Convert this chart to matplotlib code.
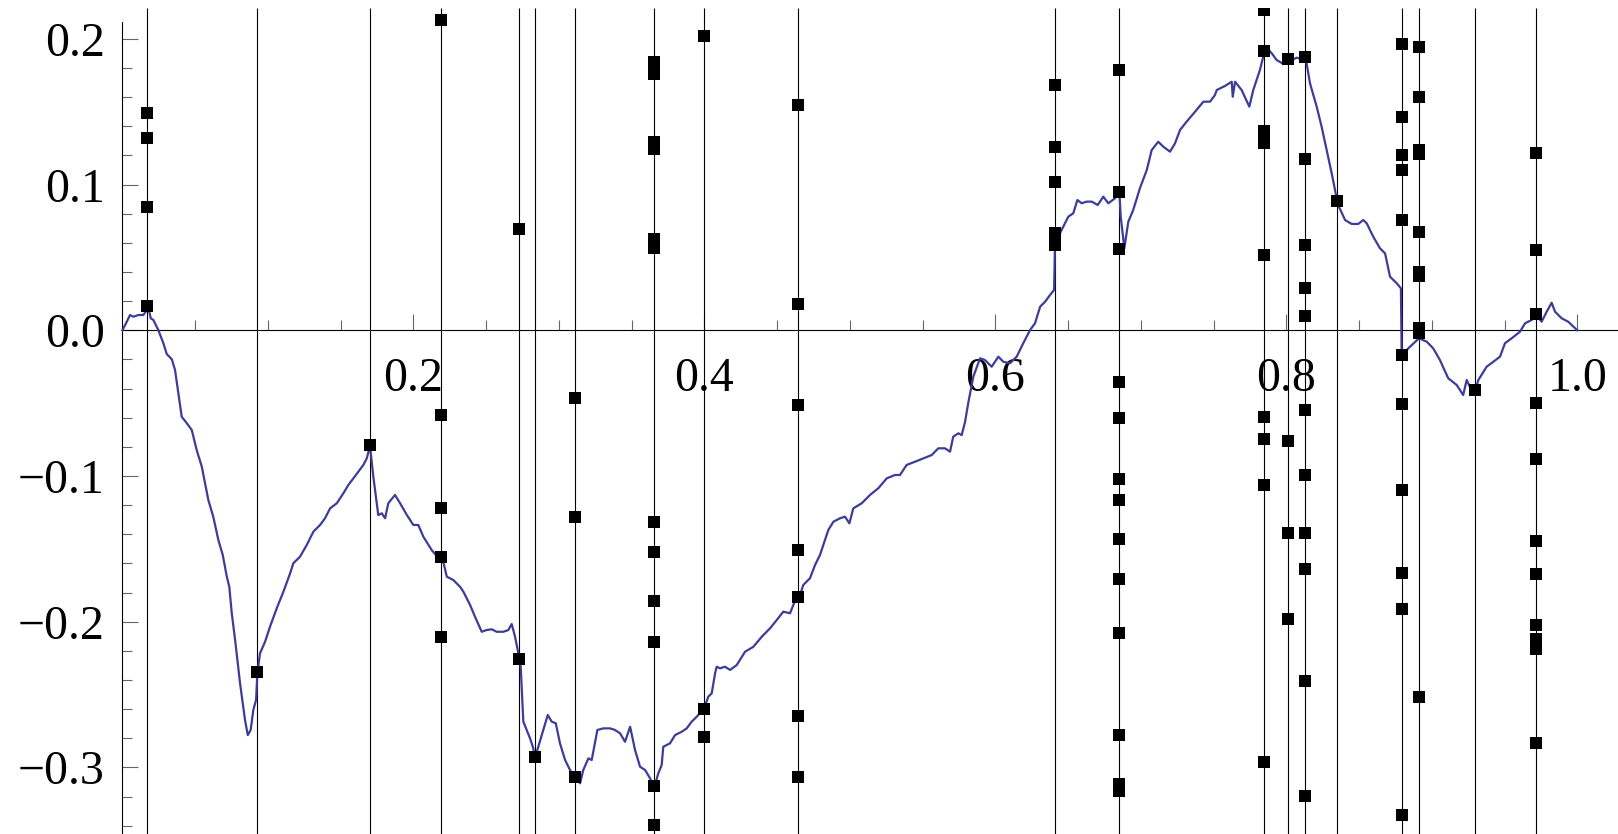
import numpy as np
import matplotlib
matplotlib.use("Agg")
import matplotlib.pyplot as plt
from matplotlib.ticker import FixedLocator, FixedFormatter

# traced walk (blue curve)
walk_x = [0.0000, 0.0019, 0.0053, 0.0076, 0.0110, 0.0144, 0.0161, 0.0170, 0.0195, 0.0213,
          0.0247, 0.0282, 0.0305, 0.0340, 0.0362, 0.0385, 0.0408, 0.0443, 0.0477, 0.0511,
          0.0546, 0.0591, 0.0625, 0.0660, 0.0690, 0.0718, 0.0735, 0.0752, 0.0775, 0.0809,
          0.0843, 0.0862, 0.0882, 0.0900, 0.0919, 0.0928, 0.0946, 0.0981, 0.1015, 0.1061,
          0.1107, 0.1153, 0.1175, 0.1221, 0.1267, 0.1313, 0.1359, 0.1393, 0.1428, 0.1474,
          0.1519, 0.1553, 0.1588, 0.1622, 0.1656, 0.1680, 0.1702, 0.1725, 0.1759, 0.1783,
          0.1806, 0.1828, 0.1874, 0.1909, 0.1955, 0.2000, 0.2034, 0.2069, 0.2126, 0.2165,
          0.2195, 0.2230, 0.2275, 0.2321, 0.2344, 0.2390, 0.2424, 0.2470, 0.2504, 0.2539,
          0.2573, 0.2619, 0.2653, 0.2676, 0.2699, 0.2722, 0.2738, 0.2756, 0.2779, 0.2802,
          0.2821, 0.2838, 0.2859, 0.2893, 0.2924, 0.2951, 0.2979, 0.3008, 0.3043, 0.3077,
          0.3111, 0.3146, 0.3168, 0.3203, 0.3226, 0.3265, 0.3306, 0.3352, 0.3386, 0.3421,
          0.3455, 0.3490, 0.3524, 0.3558, 0.3593, 0.3627, 0.3654, 0.3684, 0.3707, 0.3718,
          0.3764, 0.3799, 0.3845, 0.3879, 0.3913, 0.3948, 0.4000, 0.4027, 0.4051, 0.4074,
          0.4085, 0.4108, 0.4142, 0.4177, 0.4223, 0.4280, 0.4337, 0.4395, 0.4452, 0.4498,
          0.4543, 0.4589, 0.4635, 0.4658, 0.4680, 0.4726, 0.4761, 0.4795, 0.4852, 0.4887,
          0.4933, 0.4967, 0.4997, 0.5024, 0.5082, 0.5139, 0.5196, 0.5254, 0.5311, 0.5345,
          0.5391, 0.5448, 0.5505, 0.5563, 0.5608, 0.5654, 0.5689, 0.5711, 0.5746, 0.5769,
          0.5792, 0.5814, 0.5849, 0.5895, 0.5929, 0.5975, 0.6021, 0.6055, 0.6101, 0.6147,
          0.6192, 0.6239, 0.6273, 0.6308, 0.6342, 0.6376, 0.6404, 0.6410, 0.6433, 0.6467,
          0.6502, 0.6536, 0.6564, 0.6594, 0.6628, 0.6663, 0.6704, 0.6742, 0.6777, 0.6823,
          0.6852, 0.6862, 0.6887, 0.6914, 0.6948, 0.6994, 0.7041, 0.7075, 0.7120, 0.7155,
          0.7201, 0.7235, 0.7270, 0.7315, 0.7373, 0.7430, 0.7476, 0.7510, 0.7522, 0.7579,
          0.7625, 0.7632, 0.7648, 0.7693, 0.7746, 0.7773, 0.7819, 0.7847, 0.7869, 0.7900,
          0.7934, 0.7980, 0.8007, 0.8037, 0.8072, 0.8106, 0.8135, 0.8163, 0.8209, 0.8243,
          0.8278, 0.8312, 0.8335, 0.8351, 0.8404, 0.8449, 0.8495, 0.8529, 0.8553, 0.8598,
          0.8644, 0.8679, 0.8713, 0.8759, 0.8788, 0.8793, 0.8850, 0.8912, 0.8965, 0.9010,
          0.9056, 0.9113, 0.9171, 0.9216, 0.9240, 0.9267, 0.9297, 0.9320, 0.9377, 0.9423,
          0.9469, 0.9503, 0.9549, 0.9606, 0.9641, 0.9687, 0.9716, 0.9755, 0.9790, 0.9824,
          0.9847, 0.9893, 0.9938, 1.0000]
walk_y = [0.0000, 0.0036, 0.0105, 0.0093, 0.0105, 0.0105, 0.0128, 0.0196, 0.0082, 0.0071,
          0.0002, -0.0089, -0.0163, -0.0199, -0.0272, -0.0432, -0.0593, -0.0638, -0.0684, -0.0822,
          -0.0936, -0.1165, -0.1280, -0.1440, -0.1542, -0.1691, -0.1760, -0.1942, -0.2125, -0.2423,
          -0.2674, -0.2778, -0.2743, -0.2606, -0.2537, -0.2354, -0.2217, -0.2137, -0.2034, -0.1908,
          -0.1794, -0.1668, -0.1599, -0.1554, -0.1474, -0.1382, -0.1336, -0.1290, -0.1222, -0.1187,
          -0.1119, -0.1062, -0.1016, -0.0970, -0.0925, -0.0879, -0.0791, -0.1005, -0.1268, -0.1256,
          -0.1290, -0.1187, -0.1130, -0.1187, -0.1267, -0.1336, -0.1336, -0.1417, -0.1508, -0.1554,
          -0.1542, -0.1691, -0.1714, -0.1760, -0.1794, -0.1885, -0.1966, -0.2069, -0.2057, -0.2052,
          -0.2069, -0.2069, -0.2057, -0.2016, -0.2103, -0.2217, -0.2309, -0.2686, -0.2743, -0.2800,
          -0.2858, -0.2927, -0.2858, -0.2743, -0.2640, -0.2686, -0.2697, -0.2835, -0.2949, -0.3018,
          -0.3064, -0.3109, -0.3018, -0.2938, -0.2949, -0.2743, -0.2732, -0.2732, -0.2743, -0.2766,
          -0.2824, -0.2721, -0.2881, -0.2995, -0.3018, -0.3075, -0.3143, -0.3040, -0.2983, -0.2858,
          -0.2835, -0.2778, -0.2755, -0.2732, -0.2686, -0.2652, -0.2594, -0.2515, -0.2491, -0.2354,
          -0.2309, -0.2320, -0.2309, -0.2331, -0.2297, -0.2206, -0.2172, -0.2103, -0.2045, -0.1988,
          -0.1931, -0.1942, -0.1828, -0.1817, -0.1748, -0.1702, -0.1611, -0.1542, -0.1371, -0.1314,
          -0.1290, -0.1279, -0.1325, -0.1222, -0.1187, -0.1130, -0.1084, -0.1016, -0.0993, -0.0993,
          -0.0924, -0.0902, -0.0879, -0.0856, -0.0810, -0.0810, -0.0833, -0.0730, -0.0707, -0.0719,
          -0.0629, -0.0499, -0.0318, -0.0192, -0.0204, -0.0250, -0.0181, -0.0216, -0.0226, -0.0181,
          -0.0089, 0.0002, 0.0048, 0.0162, 0.0196, 0.0242, 0.0277, 0.0585, 0.0642, 0.0711,
          0.0780, 0.0803, 0.0894, 0.0872, 0.0883, 0.0883, 0.0860, 0.0917, 0.0872, 0.0906,
          0.0963, 0.0780, 0.0563, 0.0745, 0.0826, 0.0975, 0.1100, 0.1237, 0.1294, 0.1260,
          0.1226, 0.1283, 0.1375, 0.1432, 0.1500, 0.1569, 0.1569, 0.1615, 0.1649, 0.1677,
          0.1706, 0.1603, 0.1706, 0.1649, 0.1535, 0.1649, 0.1787, 0.1901, 0.1935, 0.1901,
          0.1855, 0.1828, 0.1867, 0.1855, 0.1871, 0.1860, 0.1860, 0.1695, 0.1535, 0.1397,
          0.1237, 0.1078, 0.0963, 0.0872, 0.0757, 0.0730, 0.0730, 0.0757, 0.0734, 0.0642,
          0.0563, 0.0528, 0.0368, 0.0323, 0.0288, -0.0170, -0.0113, -0.0055, -0.0078, -0.0124,
          -0.0204, -0.0329, -0.0375, -0.0444, -0.0341, -0.0398, -0.0421, -0.0341, -0.0250, -0.0216,
          -0.0181, -0.0089, -0.0055, -0.0010, 0.0048, 0.0071, 0.0105, 0.0059, 0.0128, 0.0189,
          0.0128, 0.0082, 0.0059, 0.0000]

# vertical lines and the sample points on each of them
line_x = [0.0170, 0.0928, 0.1702, 0.2192, 0.2724, 0.2838, 0.3111, 0.3656, 0.4000, 0.4642,
          0.6410, 0.6852, 0.7847, 0.8014, 0.8126, 0.8346, 0.8797, 0.8912, 0.9297, 0.9716]
line_pts = [
    [0.1494, 0.1320, 0.0848, 0.0167],
    [-0.2343],
    [-0.0789],
    [0.2128, -0.0583, -0.1218, -0.1558, -0.2107],
    [0.0697, -0.2258],
    [-0.2931],
    [-0.0467, -0.1283, -0.3068],
    [0.1839, 0.1757, 0.1291, 0.1241, 0.0625, 0.0594, 0.0563, -0.1318, -0.1524, -0.1860,
     -0.2141, -0.3130, -0.3397],
    [0.2020, -0.2599, -0.2793],
    [0.1544, 0.0178, -0.0510, -0.1510, -0.1828, -0.2647, -0.3068],
    [0.1682, 0.1256, 0.1020, 0.0666, 0.0585],
    [0.1784, 0.0951, 0.0556, -0.0357, -0.0604, -0.1023, -0.1165, -0.1434, -0.1709, -0.2080,
     -0.2780, -0.3116, -0.3160],
    [0.2198, 0.1919, 0.1366, 0.1283, 0.0515, -0.0593, -0.0748, -0.1064, -0.2965],
    [0.1860, -0.0762, -0.1393, -0.1984],
    [0.1874, 0.1174, 0.0583, 0.0288, 0.0098, -0.0550, -0.0995, -0.1393, -0.1640, -0.2409,
     -0.3198],
    [0.0885],
    [0.1965, 0.1462, 0.1203, 0.1100, 0.0757, -0.0170, -0.0508, -0.1098, -0.1668, -0.1915,
     -0.3329],
    [0.1942, 0.1599, 0.1240, 0.1210, 0.0675, 0.0400, 0.0371, 0.0016, -0.0019, -0.2517],
    [-0.0410],
    [0.1215, 0.0551, 0.0110, -0.0501, -0.0885, -0.1448, -0.1675, -0.2023, -0.2121, -0.2185,
     -0.2835],
]

x_ticks = [0.2, 0.4, 0.6, 0.8, 1.0]
x_labels = ["0.2", "0.4", "0.6", "0.8", "1.0"]
y_ticks = [-0.3, -0.2, -0.1, 0.0, 0.1, 0.2]
y_labels = ["\u22120.3", "\u22120.2", "\u22120.1", "0.0", "0.1", "0.2"]

x_lo, x_hi = -0.0841, 1.0280
y_lo, y_hi = -0.3457, 0.2212
y_axis_top = 0.2116

fig = plt.figure(figsize=(16.18, 8.34), dpi=100)
ax = fig.add_axes([0, 0, 1, 826 / 834])
ax.set_xlim(x_lo, x_hi)
ax.set_ylim(y_lo, y_hi)

ax.vlines(line_x, y_lo, y_hi, colors="black", linewidth=0.8, zorder=2.6)
ax.plot(walk_x, walk_y, color="#3d3d99", linewidth=1.6, zorder=2.7)
for x, ys in zip(line_x, line_pts):
    ax.plot([x] * len(ys), ys, "s", color="black", markersize=8, markeredgewidth=0, zorder=2.8)

# axes through the origin
for side in ["top", "right"]:
    ax.spines[side].set_visible(False)
ax.spines["left"].set_position(("data", 0))
ax.spines["bottom"].set_position(("data", 0))
ax.spines["left"].set_bounds(y_lo, y_axis_top)
ax.spines["bottom"].set_bounds(0, x_hi)
ax.spines["left"].set_linewidth(0.8)
ax.spines["bottom"].set_linewidth(0.8)

ax.xaxis.set_major_locator(FixedLocator(x_ticks))
ax.xaxis.set_major_formatter(FixedFormatter(x_labels))
ax.yaxis.set_major_locator(FixedLocator(y_ticks))
ax.yaxis.set_major_formatter(FixedFormatter(y_labels))
x_minor = [v for v in np.round(np.arange(0.05, 1.03, 0.05), 3) if round(v / 0.2, 6) % 1 != 0]
y_minor = [v for v in np.round(np.arange(-0.34, 0.21, 0.02), 3) if abs(v * 10 - round(v * 10)) > 1e-6]
ax.xaxis.set_minor_locator(FixedLocator(x_minor))
ax.yaxis.set_minor_locator(FixedLocator(y_minor))

ax.tick_params(which="both", direction="in", color="#666666", width=0.8)
ax.tick_params(which="major", length=11.5)
ax.tick_params(which="minor", length=7)
ax.tick_params(axis="x", which="major", pad=19)
ax.tick_params(axis="y", which="major", pad=12.5)
for lab in ax.get_xticklabels() + ax.get_yticklabels():
    lab.set_fontfamily("Liberation Serif")
    lab.set_fontsize(34.5)

fig.savefig("out.png", dpi=100)
